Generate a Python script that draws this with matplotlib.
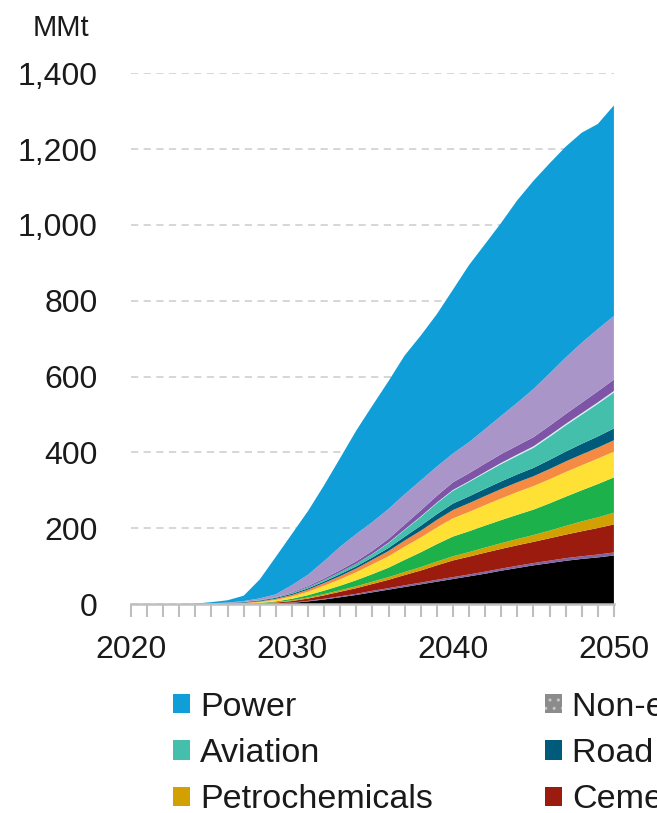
import matplotlib
matplotlib.use("Agg")
import matplotlib.pyplot as plt
from matplotlib.patches import Patch
from matplotlib.ticker import FuncFormatter, MultipleLocator

plt.rcParams['font.family'] = ['Liberation Sans', 'DejaVu Sans']

# ── Data (MMt) ────────────────────────────────────────────────────────────────

years = list(range(2020, 2051))

iron_steel = [0, 0, 0, 0, 0, 0, 0, 0.2, 0.5, 1.5, 3, 7, 12, 18, 24, 31,
              38, 45, 52, 59, 66, 73, 80, 88, 95, 102, 108, 114, 119, 123, 128]
refining = [0, 0, 0, 0, 0, 0, 0, 0.1, 0.2, 0.5, 1, 1.5, 2, 2.5, 3, 4,
            4, 4.5, 4.5, 5, 5, 5, 5.5, 5.5, 6, 6, 6.5, 7, 7, 7.5, 8]
cement = [0, 0, 0, 0, 0, 0, 0.2, 0.5, 1, 2, 4, 6, 9, 12, 15, 18,
          22, 27, 32, 38, 44, 47, 50, 52, 54, 56, 59, 62, 66, 70, 74]
petrochem = [0, 0, 0, 0, 0, 0, 0, 0.2, 0.5, 1, 2, 3, 3.5, 4, 5, 6,
             7, 8, 9, 10, 11, 12, 13.5, 15, 16.5, 18, 20, 23, 26, 28, 31]
ammonia = [0, 0, 0, 0, 0, 0, 0.2, 0.5, 1, 2, 4, 6, 9, 12, 16, 20,
           25, 32, 39, 46, 52, 55, 58, 61, 64, 67, 72, 77, 82, 88, 93]
other_ind = [0, 0, 0, 0, 0, 0.2, 0.5, 1, 2, 4, 6, 9, 13, 17, 21, 26,
             30, 35, 39, 44, 48, 51, 54, 57, 60, 62, 63.5, 65, 66, 67, 68]
buildings = [0, 0, 0, 0, 0, 0.3, 0.6, 1, 2, 3, 4, 5.5, 7, 8.5, 10, 12,
             14, 16, 18, 20, 22, 23, 24, 25, 25.5, 26, 27, 28, 28.5, 29, 30]
road = [0, 0, 0, 0, 0.2, 0.5, 1, 1.5, 2, 2.5, 3, 3.5, 4, 5, 5.5, 6,
        8, 10, 13, 15, 17, 18, 19, 20, 21, 22, 24, 26, 28, 29.5, 31]
aviation = [0, 0, 0, 0, 0, 0.1, 0.2, 0.4, 0.8, 1.2, 2, 3, 4, 5.5, 7, 9,
            13, 18, 23, 29, 34, 38, 42, 46, 49, 53, 61, 69, 77, 86, 95]
non_energy = [0, 0, 0, 0, 0, 0, 0, 0, 0, 0, 0, 0, 0, 0, 0, 0.5,
              1, 1, 1.5, 1.5, 2, 2, 2.5, 3, 3.5, 4, 4, 4, 4, 4, 4]
rail = [0, 0, 0, 0, 0, 0, 0.1, 0.2, 0.5, 1, 2, 3, 4, 5, 6.5, 8,
        10, 13, 16, 18, 20, 21, 22, 23, 23.5, 24, 25, 26, 27.5, 29, 30]
shipping = [0, 0, 0, 0, 0, 1, 1.2, 2.4, 4.5, 7, 19, 30, 46, 62, 72, 76,
            79, 80, 79, 77, 76, 82, 91, 101, 113, 127, 138, 149, 158, 164, 168]
power = [0, 0, 0, 0, 1, 3, 6, 14, 50, 99, 135, 168, 200, 234, 273, 307,
         337, 366, 382, 402, 432, 467, 488, 509, 534, 549, 554, 556, 554, 541, 555]

# stack order, bottom → top
stack = [
    ('Iron & steel',   iron_steel, '#000000'),
    ('Refining',       refining,   '#8064A2'),
    ('Cement',         cement,     '#9B1B0E'),
    ('Petrochemicals', petrochem,  '#D2A000'),
    ('Ammonia',        ammonia,    '#1DB14B'),
    ('Other industry', other_ind,  '#FFE135'),
    ('Buildings',      buildings,  '#F58A42'),
    ('Road transport', road,       '#005B7A'),
    ('Aviation',       aviation,   '#43BFAC'),
    ('Non-energy use', non_energy, '#D8ECF2'),
    ('Rail',           rail,       '#7E55A6'),
    ('Shipping',       shipping,   '#A995C8'),
    ('Power',          power,      '#0F9ED8'),
]

# legend entries that fall inside the picture (column-major, 3 rows)
legend_order = ['Power', 'Aviation', 'Petrochemicals',
                'Non-energy use', 'Road transport', 'Cement']

TEXT = '#1a1a1a'
AXIS_GREY = '#BFBFBF'

# ── Figure ────────────────────────────────────────────────────────────────────

fig = plt.figure(figsize=(6.57, 8.13), dpi=100)
ax = fig.add_axes([0.1994, 0.257, 0.735, 0.653])

names = [s[0] for s in stack]
colors = [s[2] for s in stack]
ax.stackplot(years, *[s[1] for s in stack], colors=colors, linewidth=0, zorder=2)

ax.set_xlim(2020, 2050)
ax.set_ylim(0, 1400)

ax.yaxis.set_major_locator(MultipleLocator(200))
ax.yaxis.set_major_formatter(FuncFormatter(lambda v, p: f'{int(v):,}'))
ax.grid(axis='y', linestyle=(0, (4, 3)), color='#D3D3D3', linewidth=1.3, zorder=0)
ax.set_axisbelow(True)

ax.xaxis.set_major_locator(MultipleLocator(10))
ax.xaxis.set_minor_locator(MultipleLocator(1))
ax.tick_params(axis='x', which='both', direction='out', length=9,
               width=1.5, color=AXIS_GREY, labelsize=23, labelcolor=TEXT, pad=13)
ax.tick_params(axis='y', length=0, labelsize=23, labelcolor=TEXT, pad=24)

for side in ['top', 'right', 'left']:
    ax.spines[side].set_visible(False)
ax.spines['bottom'].set_color(AXIS_GREY)
ax.spines['bottom'].set_linewidth(1.8)
ax.spines['bottom'].set_zorder(3)

fig.text(0.093, 0.965, 'MMt', fontsize=21, color=TEXT, ha='center', va='center')

# ── Legend (second column runs off the right edge as in the reference) ───────

handles = []
for lab in legend_order:
    c = colors[names.index(lab)]
    if lab == 'Non-energy use':
        handles.append(Patch(facecolor='#8C8C8C', edgecolor='#C8C8C8',
                             hatch='..', linewidth=0, label=lab))
    else:
        handles.append(Patch(facecolor=c, edgecolor='none', label=lab))

fig.legend(handles=handles, loc='upper left', bbox_to_anchor=(0.263, 0.149),
           ncol=2, frameon=False, fontsize=24.5, labelcolor=TEXT,
           handlelength=0.5, handleheight=0.5, handletextpad=0.3,
           columnspacing=3.3, labelspacing=0.45, borderpad=0, borderaxespad=0)

fig.savefig('out.png', dpi=100)
